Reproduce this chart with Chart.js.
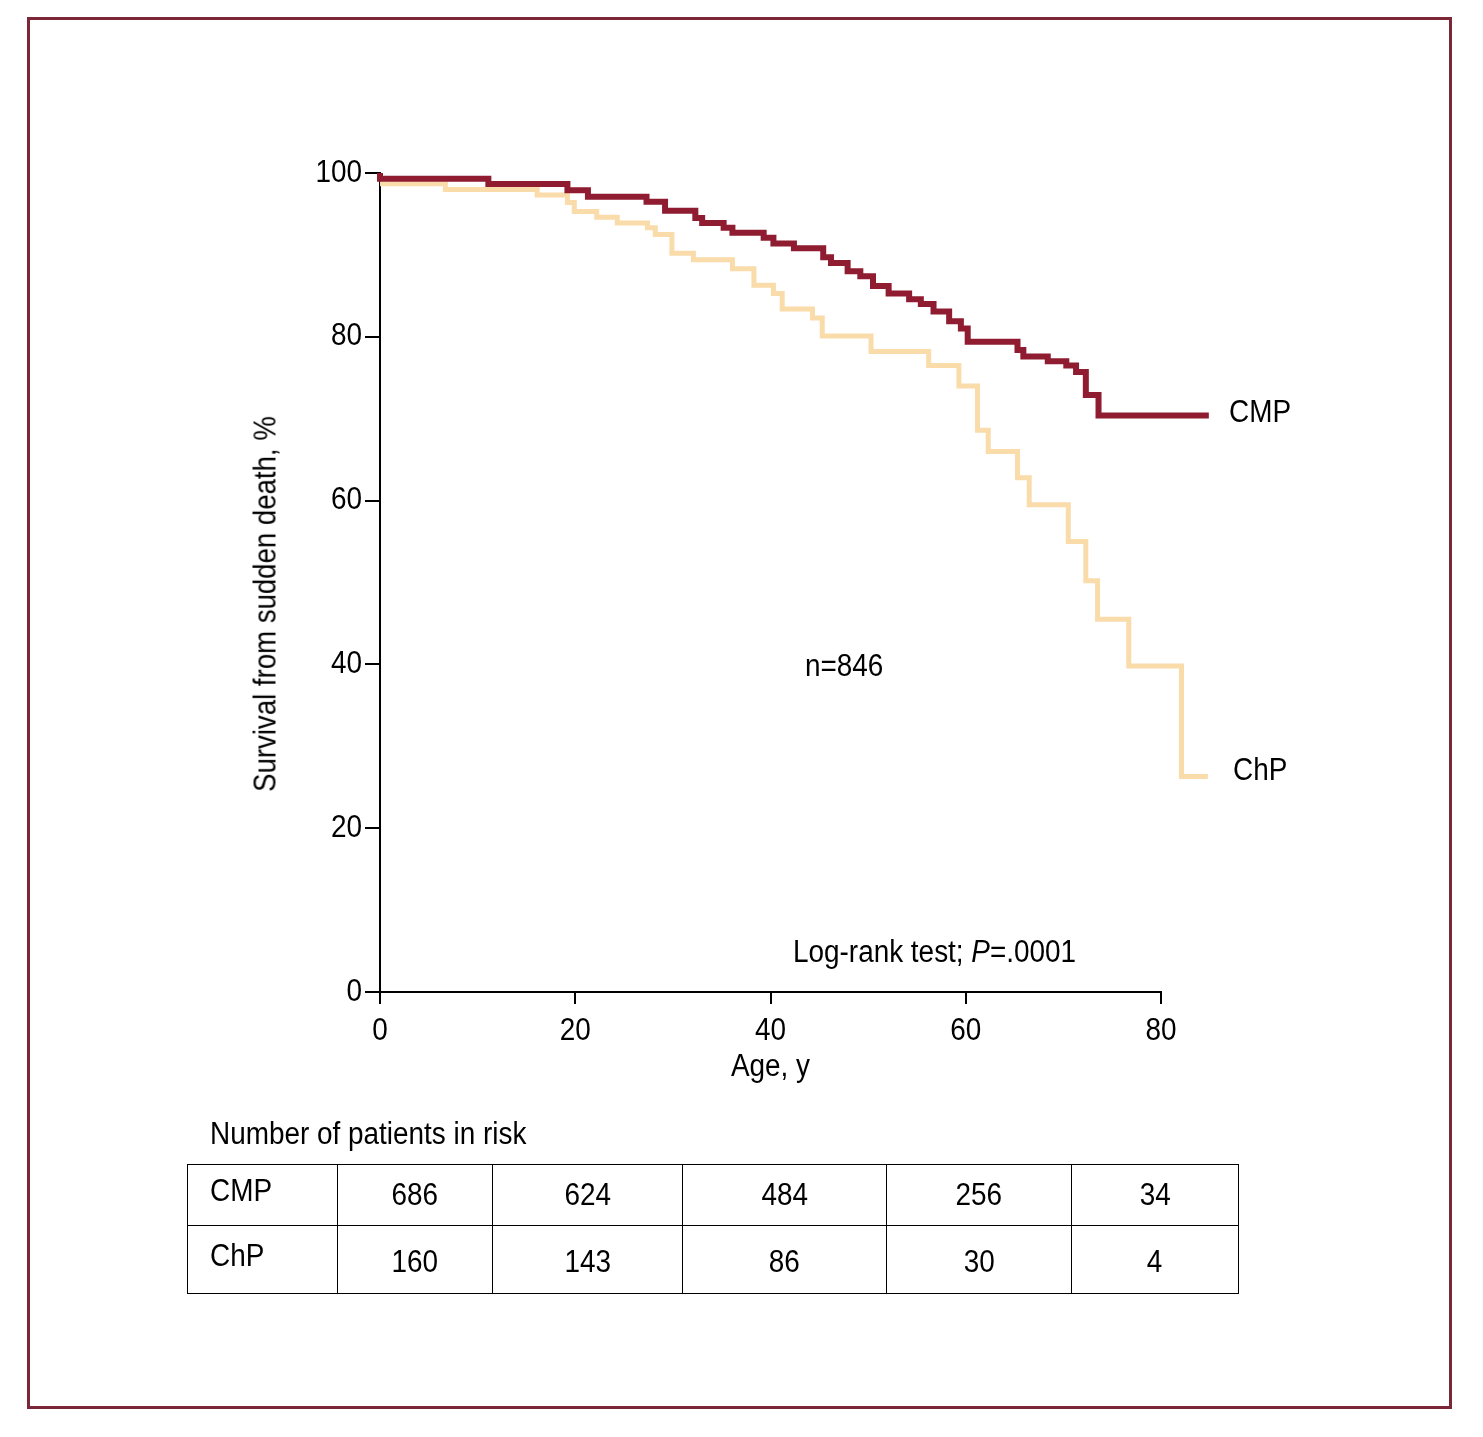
<!DOCTYPE html>
<html>
<head>
<meta charset="utf-8">
<script src="https://cdn.jsdelivr.net/npm/chart.js@4"></script>
<style>
  html, body { margin: 0; padding: 0; background: #fff; }
  body { width: 1483px; height: 1437px; position: relative; overflow: hidden;
         font-family: 'Liberation Sans Narrow', 'Liberation Sans', Arial, sans-serif; color: #000; }
  #frame { position: absolute; left: 27px; top: 17px; width: 1419px; height: 1386px;
           border: 3px solid #7c2738; }
  #c { position: absolute; left: 0; top: 0; }
  .txt { position: absolute; font-size: 31px; line-height: 31px; white-space: nowrap;
         transform: scaleX(0.9); transform-origin: 0 50%; }
  #ytitle { position: absolute; left: 265px; top: 604px; font-size: 31px; line-height: 31px;
            white-space: nowrap; transform: translate(-50%, -50%) rotate(-90deg) scaleX(0.89); }
  #risk { position: absolute; left: 187px; top: 1164px; border-collapse: collapse; table-layout: fixed; }
  #risk td { border: 1.5px solid #000; font-size: 31px; text-align: center; padding: 0; }
  #risk td span { display: inline-block; transform: scaleX(0.9); }
  #risk td.lab { text-align: left; padding-left: 22px; }
  #risk td.lab span { transform-origin: 0 50%; position: relative; top: -4px; }
  #risk tr.r0 td { height: 60px; }
  #risk tr.r1 td { height: 67px; }
  #risk tr.r1 td span.n { position: relative; top: 2px; }
</style>
</head>
<body>
<div id="frame"></div>
<canvas id="c" width="1483" height="1437"></canvas>
<div id="ytitle">Survival from sudden death, %</div>
<div class="txt" style="left:805px; top:650px;">n=846</div>
<div class="txt" style="left:793px; top:936px;">Log-rank test; <i>P</i>=.0001</div>
<div class="txt" style="left:1229px; top:396px;">CMP</div>
<div class="txt" style="left:1233px; top:754px;">ChP</div>
<div class="txt" style="left:210px; top:1118px;">Number of patients in risk</div>
<table id="risk"></table>
<script>
// ---- data ----
const xTicks = [0, 20, 40, 60, 80];
const yTicks = [0, 20, 40, 60, 80, 100];
const seriesNames = ['CMP', 'ChP'];

const cmpAge  = [0, 0, 11.1, 19.2, 21.3, 27.3, 29.2, 32.3, 33.0, 35.2, 36.1, 39.3, 40.3, 42.4, 45.4, 46.2, 47.9, 49.2, 50.5, 52.1, 54.2, 55.4, 56.7, 58.3, 59.5, 60.2, 65.3, 65.9, 68.4, 70.3, 71.3, 72.3, 73.6, 84.9];
const cmpSurv = [100, 99.3, 98.65, 97.9, 97.1, 96.5, 95.4, 94.5, 93.9, 93.3, 92.7, 92.1, 91.4, 90.8, 89.7, 89.0, 88.0, 87.4, 86.2, 85.3, 84.6, 84.0, 83.1, 81.9, 81.0, 79.4, 78.4, 77.6, 77.0, 76.5, 75.7, 72.9, 70.4, 70.4];

const chpAge  = [0, 6.7, 16.1, 19.2, 19.9, 22.2, 24.3, 27.4, 28.2, 29.9, 32.1, 36.1, 38.3, 40.3, 41.2, 44.3, 45.3, 50.3, 56.2, 59.3, 61.2, 62.3, 65.3, 66.5, 70.5, 72.3, 73.5, 76.7, 82.1, 84.8];
const chpSurv = [98.7, 98.0, 97.3, 96.4, 95.3, 94.6, 93.9, 93.3, 92.5, 90.2, 89.4, 88.3, 86.3, 85.3, 83.4, 82.3, 80.1, 78.2, 76.5, 74.0, 68.6, 66.0, 62.8, 59.5, 55.0, 50.2, 45.5, 39.8, 26.3, 26.3];

const riskLabels = ['CMP', 'ChP'];
const riskCMP = [686, 624, 484, 256, 34];
const riskChP = [160, 143, 86, 30, 4];

// ---- risk table ----
const colWidths = [150, 155, 190, 204, 185, 167];
const tbl = document.getElementById('risk');
const cg = document.createElement('colgroup');
colWidths.forEach(w => { const c = document.createElement('col'); c.style.width = w + 'px'; cg.appendChild(c); });
tbl.appendChild(cg);
[riskCMP, riskChP].forEach((row, ri) => {
  const tr = document.createElement('tr');
  tr.className = 'r' + ri;
  const th = document.createElement('td');
  th.className = 'lab';
  th.innerHTML = '<span>' + riskLabels[ri] + '</span>';
  tr.appendChild(th);
  row.forEach(v => {
    const td = document.createElement('td');
    const sp = document.createElement('span');
    sp.className = 'n';
    sp.textContent = v;
    td.appendChild(sp);
    tr.appendChild(td);
  });
  tbl.appendChild(tr);
});

// ---- chart ----
const FONT = "'Liberation Sans Narrow', 'Liberation Sans', Arial, sans-serif";
Chart.defaults.font.family = FONT;
Chart.defaults.color = '#000';

const canvas = document.getElementById('c');
const ctx2d = canvas.getContext('2d');
// condensed look: draw all canvas text slightly narrowed
const origFillText = ctx2d.fillText.bind(ctx2d);
ctx2d.fillText = function (text, x, y, maxWidth) {
  this.save();
  this.translate(x, y);
  this.scale(0.9, 1);
  if (maxWidth === undefined) origFillText(text, 0, 0); else origFillText(text, 0, 0, maxWidth / 0.9);
  this.restore();
};

const toPts = (xs, ys) => xs.map((x, i) => ({ x: x, y: ys[i] }));

new Chart(ctx2d, {
  type: 'line',
  data: {
    datasets: [
      { label: seriesNames[0], data: toPts(cmpAge, cmpSurv), borderColor: '#8f1c31', borderWidth: 6,
        stepped: 'before', pointRadius: 0, fill: false, clip: false, borderJoinStyle: 'miter', borderCapStyle: 'butt' },
      { label: seriesNames[1], data: toPts(chpAge, chpSurv), borderColor: '#f9dcaa', borderWidth: 5,
        stepped: 'before', pointRadius: 0, fill: false, clip: false, borderJoinStyle: 'miter', borderCapStyle: 'butt' }
    ]
  },
  options: {
    responsive: false,
    animation: false,
    devicePixelRatio: 1,
    layout: { padding: { left: 260, right: 322, top: 173, bottom: 345 } },
    plugins: { legend: { display: false }, tooltip: { enabled: false } },
    scales: {
      x: {
        type: 'linear',
        afterDataLimits: s => { s.min = xTicks[0]; s.max = xTicks[xTicks.length - 1]; },
        afterBuildTicks: s => { s.ticks = xTicks.map(v => ({ value: v })); s.min = xTicks[0]; s.max = xTicks[xTicks.length - 1]; },
        afterFit: s => { s.height = 100; },
        ticks: { font: { size: 31 }, padding: 9, color: '#000', maxRotation: 0, stepSize: 20 },
        grid: { drawOnChartArea: false, drawTicks: true, tickLength: 12, color: '#000', lineWidth: 2 },
        border: { display: true, color: '#000', width: 2 },
        title: { display: true, text: 'Age, y', font: { size: 31 }, color: '#000', padding: { top: 0, bottom: 6 } }
      },
      y: {
        type: 'linear', min: 0, max: 100,
        afterBuildTicks: s => { s.ticks = yTicks.map(v => ({ value: v })); },
        afterFit: s => { s.width = 120; },
        ticks: { font: { size: 31 }, padding: 3, color: '#000' },
        grid: { drawOnChartArea: false, drawTicks: true, tickLength: 15, color: '#000', lineWidth: 2 },
        border: { display: true, color: '#000', width: 2 }
      }
    }
  }
});
</script>
</body>
</html>
